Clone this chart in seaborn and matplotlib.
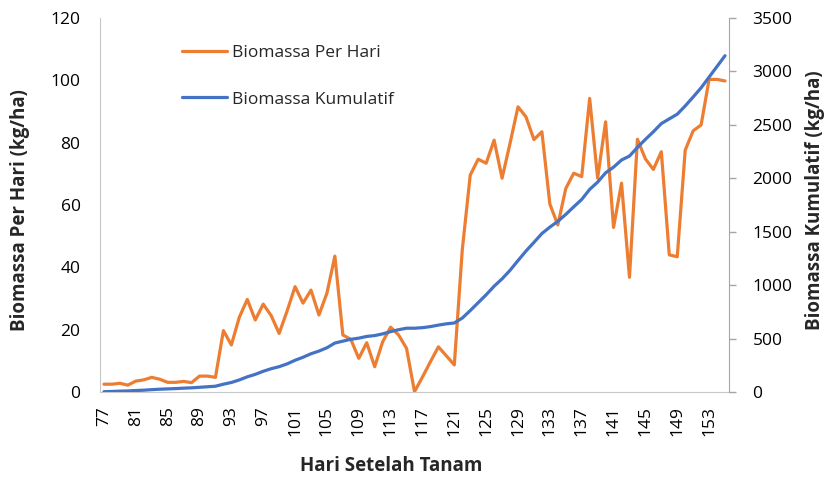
import numpy as np
import pandas as pd
import matplotlib
matplotlib.use("Agg")
import matplotlib.pyplot as plt
import seaborn as sns

# Hari setelah tanam (77 .. 155)
days = list(range(77, 156))

# Biomassa per hari (kg/ha)
biomass_daily = [
    2.5, 2.5, 2.8, 2.2, 3.5, 3.9, 4.7, 4.1, 3.1, 3.1,
    3.4, 3.0, 5.1, 5.1, 4.7, 19.7, 15.1, 24.0, 29.7, 23.1,
    28.2, 24.5, 18.8, 26.0, 33.8, 28.5, 32.7, 24.7, 31.7, 43.6,
    18.3, 16.9, 10.8, 15.8, 8.1, 16.1, 20.8, 18.3, 14.0, 0.1,
    4.8, 9.7, 14.5, 11.6, 8.7, 45.6, 69.6, 74.7, 73.4, 80.8,
    68.6, 79.8, 91.5, 88.3, 81.0, 83.5, 60.3, 53.6, 65.3, 70.2,
    69.1, 94.2, 68.6, 86.7, 52.8, 67.0, 36.8, 81.1, 74.8, 71.4,
    77.1, 44.0, 43.4, 77.6, 83.8, 85.7, 100.3, 100.3, 99.8,
]

# Biomassa kumulatif (kg/ha)
biomass_cumulative = [
    3, 5, 8, 10, 14, 17, 22, 26, 29, 32,
    36, 39, 44, 49, 54, 73, 89, 113, 142, 165,
    194, 218, 237, 263, 297, 325, 358, 383, 414, 458,
    476, 493, 504, 520, 528, 544, 565, 583, 597, 597,
    602, 612, 626, 638, 646, 692, 762, 836, 910, 990,
    1059, 1139, 1230, 1319, 1400, 1483, 1543, 1597, 1662, 1733,
    1802, 1896, 1964, 2051, 2104, 2171, 2208, 2289, 2364, 2435,
    2512, 2556, 2600, 2677, 2761, 2847, 2947, 3047, 3147,
]

left_ticks = [0, 20, 40, 60, 80, 100, 120]
right_ticks = [0, 500, 1000, 1500, 2000, 2500, 3000, 3500]
x_ticks = list(range(77, 154, 4))

ORANGE = "#ED7D31"
BLUE = "#4472C4"

df = pd.DataFrame({"hari": days, "harian": biomass_daily, "kumulatif": biomass_cumulative})

sns.set_style("white")
plt.rcParams["font.family"] = ["Open Sans", "DejaVu Sans"]

fig = plt.figure(figsize=(8.28, 4.79), dpi=100)
ax = fig.add_axes([100 / 828, 1 - 392 / 479, 629 / 828, 374 / 479])
ax2 = ax.twinx()

sns.lineplot(data=df, x="hari", y="harian", ax=ax, color=ORANGE, linewidth=2.3,
             label="Biomassa Per Hari", legend=False)
sns.lineplot(data=df, x="hari", y="kumulatif", ax=ax2, color=BLUE, linewidth=2.3,
             label="Biomassa Kumulatif", legend=False)

ax.set_xlim(76.5, 155.5)
ax.set_ylim(0, 120)
ax2.set_ylim(0, 3500)
ax.set_yticks(left_ticks)
ax2.set_yticks(right_ticks)
ax.set_xticks(x_ticks)
ax.set_xticklabels([str(t) for t in x_ticks], rotation=90)

ax.tick_params(axis="y", length=0, pad=14, labelsize=12.5, colors="#000000")
ax.tick_params(axis="x", length=0, pad=10, labelsize=12.5, colors="#000000")
ax2.tick_params(axis="y", length=5, width=1, pad=12, labelsize=12.5, color="#A6A6A6",
                labelcolor="#000000")

for a in (ax, ax2):
    a.spines["top"].set_visible(False)
    a.set_xlabel("")
    a.set_ylabel("")
ax.spines["left"].set_color("#C8C8C8")
ax.spines["bottom"].set_color("#C8C8C8")
ax.spines["right"].set_visible(False)
ax2.spines["left"].set_visible(False)
ax2.spines["bottom"].set_visible(False)
ax2.spines["right"].set_color("#A6A6A6")

fig.text(20 / 828, 1 - 210 / 479, "Biomassa Per Hari (kg/ha)", rotation=90,
         ha="center", va="center", fontsize=13.5, fontweight="bold")
fig.text(815 / 828, 1 - 200 / 479, "Biomassa Kumulatif (kg/ha)", rotation=90,
         ha="center", va="center", fontsize=13.5, fontweight="bold")
fig.text(391 / 828, 1 - 466 / 479, "Hari Setelah Tanam",
         ha="center", va="center", fontsize=13.5, fontweight="bold")

h1, l1 = ax.get_legend_handles_labels()
h2, l2 = ax2.get_legend_handles_labels()
ax.legend(h1 + h2, l1 + l2, loc="upper left", bbox_to_anchor=(0.105, 0.97),
          frameon=False, fontsize=12.5, handlelength=2.6, handletextpad=0.3,
          labelspacing=1.75)

fig.savefig("out.png", dpi=100)
